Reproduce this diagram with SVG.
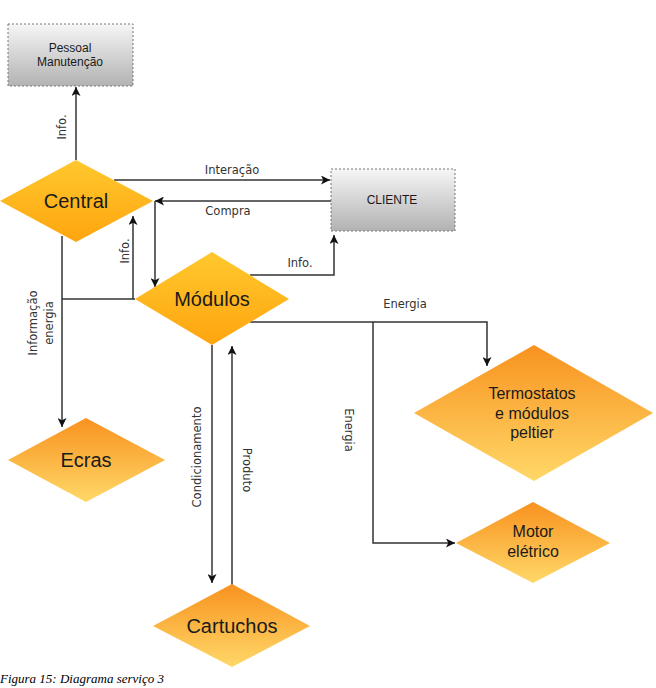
<svg xmlns="http://www.w3.org/2000/svg" width="656" height="688" viewBox="0 0 656 688">
<style>
.node{font-family:"Liberation Sans",Arial,sans-serif;fill:#1a1a1a;text-anchor:middle}
.lbl{font-family:"DejaVu Sans",Verdana,sans-serif;font-size:11.5px;fill:#333;text-anchor:middle}
.ln{fill:none;stroke:#333;stroke-width:1.5}
.box{stroke:#777;stroke-width:1;stroke-dasharray:2,2;fill:url(#gGray)}
.amber{fill:url(#gAmber)}
.orng{fill:url(#gOrange)}
.cap{font-family:"Liberation Serif","Times New Roman",serif;font-style:italic;font-size:13px;fill:#000}
</style>
<defs>
<linearGradient id="gGray" x1="0" y1="0" x2="0" y2="1"><stop offset="0" stop-color="#F6F6F6"/><stop offset="1" stop-color="#B2B2B2"/></linearGradient>
<linearGradient id="gAmber" x1="0" y1="0" x2="0" y2="1"><stop offset="0" stop-color="#FFC82E"/><stop offset="1" stop-color="#FFA50F"/></linearGradient>
<linearGradient id="gOrange" x1="0" y1="0" x2="0" y2="1"><stop offset="0" stop-color="#F8921F"/><stop offset="1" stop-color="#FFD868"/></linearGradient>
<marker id="arr" viewBox="0 0 10 10" refX="10" refY="5" markerWidth="9" markerHeight="9" markerUnits="userSpaceOnUse" orient="auto"><path d="M0,0 L10,5 L0,10 L2.5,5 z" fill="#111"/></marker>
</defs>

<g id="connectors">
<path class="ln" d="M76,160 V87" marker-end="url(#arr)"/>
<path class="ln" d="M114,180 H330" marker-end="url(#arr)"/>
<path class="ln" d="M331,201 H155" marker-end="url(#arr)"/>
<path class="ln" d="M155,201 V287" marker-end="url(#arr)"/>
<path class="ln" d="M135,299 H62"/>
<path class="ln" d="M133,299 V216" marker-end="url(#arr)"/>
<path class="ln" d="M62,236 V427" marker-end="url(#arr)"/>
<path class="ln" d="M250,275 H334 V235" marker-end="url(#arr)"/>
<path class="ln" d="M250,322 H487 V366" marker-end="url(#arr)"/>
<path class="ln" d="M373,322 V543 H455" marker-end="url(#arr)"/>
<path class="ln" d="M212,345 V583" marker-end="url(#arr)"/>
<path class="ln" d="M232,585 V346" marker-end="url(#arr)"/>
<text class="lbl" transform="translate(66,127) rotate(-90)">Info.</text>
<text class="lbl" x="232" y="174">Interação</text>
<text class="lbl" x="228" y="215">Compra</text>
<text class="lbl" transform="translate(129,251) rotate(-90)">Info.</text>
<text class="lbl" x="300" y="267">Info.</text>
<text class="lbl" x="405" y="308">Energia</text>
<text class="lbl" transform="translate(345,430) rotate(90)">Energia</text>
<text class="lbl" transform="translate(37,323) rotate(-90)">Informação</text>
<text class="lbl" transform="translate(53,323) rotate(-90)">energia</text>
<text class="lbl" transform="translate(201,457) rotate(-90)">Condicionamento</text>
<text class="lbl" transform="translate(243,470) rotate(90)">Produto</text>
</g>

<g id="pessoal">
<rect class="box" x="8" y="24" width="125" height="62"/>
<text class="node" x="70" y="52" font-size="12">Pessoal</text>
<text class="node" x="70" y="66" font-size="12">Manutenção</text>
</g>

<g id="cliente">
<rect class="box" x="331" y="169" width="124" height="62"/>
<text class="node" x="392" y="204" font-size="12">CLIENTE</text>
</g>

<g id="central">
<polygon class="amber" points="76,160 153,201 76,242 0,201"/>
<text class="node" x="76" y="208" font-size="20">Central</text>
</g>

<g id="modulos">
<polygon class="amber" points="212,252 289,299 212,345 135,299"/>
<text class="node" x="212" y="306" font-size="20">Módulos</text>
</g>

<g id="ecras">
<polygon class="orng" points="86,418 165,460 86,502 8,460"/>
<text class="node" x="86" y="467" font-size="20">Ecras</text>
</g>

<g id="termostatos">
<polygon class="orng" points="534,345 653,413 534,481 414,413"/>
<text class="node" x="532" y="399" font-size="16">Termostatos</text>
<text class="node" x="532" y="419" font-size="16">e módulos</text>
<text class="node" x="532" y="438" font-size="16">peltier</text>
</g>

<g id="motor">
<polygon class="orng" points="533,502 610,543 533,583 456,543"/>
<text class="node" x="533" y="537" font-size="16">Motor</text>
<text class="node" x="533" y="557" font-size="16">elétrico</text>
</g>

<g id="cartuchos">
<polygon class="orng" points="232,584 310,626 232,667 153,626"/>
<text class="node" x="232" y="633" font-size="20">Cartuchos</text>
</g>

<text class="cap" x="0" y="683">Figura 15: Diagrama serviço 3</text>
</svg>
